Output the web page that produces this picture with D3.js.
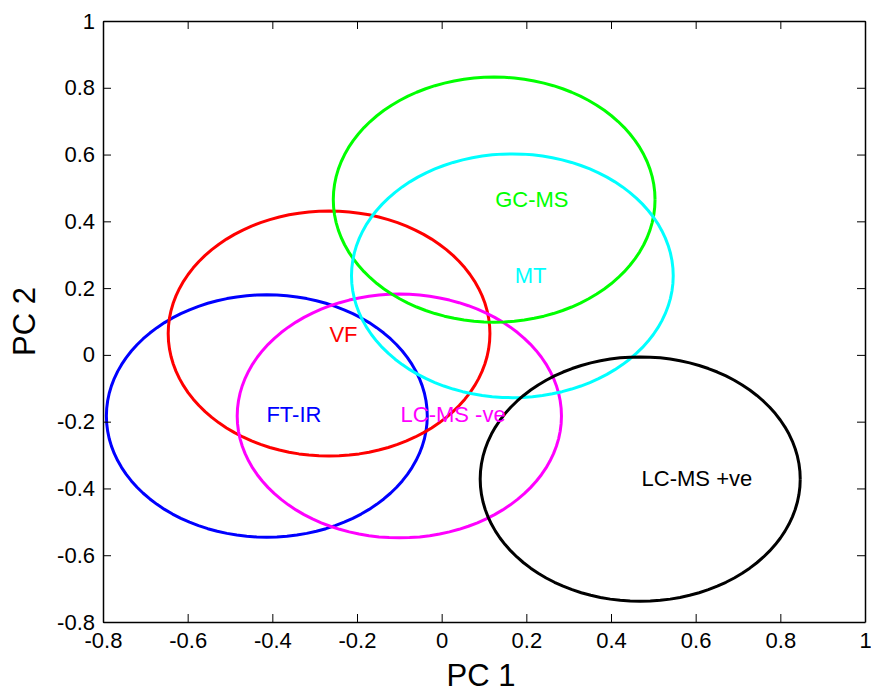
<!DOCTYPE html>
<html>
<head>
<meta charset="utf-8">
<script src="https://cdn.jsdelivr.net/npm/d3@7"></script>
<style>
  html, body { margin: 0; padding: 0; background: #fff; }
  svg { display: block; font-family: "Liberation Sans", Arial, sans-serif; }
</style>
</head>
<body>
<svg id="chart" width="871" height="692"></svg>
<script>
// ---- data ----
const groups  = ["FT-IR", "VF", "LC-MS -ve", "GC-MS", "MT", "LC-MS +ve"];
const centerX = [-0.413, -0.266, -0.100, 0.124, 0.167, 0.469];
const centerY = [-0.183,  0.064, -0.183, 0.465, 0.237, -0.372];
const radiusX = [0.379, 0.380, 0.383, 0.380, 0.380, 0.378];
const radiusY = [0.363, 0.367, 0.365, 0.367, 0.365, 0.366];
const labelX  = [-0.349, -0.232, 0.027, 0.213, 0.210, 0.603];
const labelY  = [-0.179,  0.063, -0.179, 0.467, 0.239, -0.370];
const colors  = ["#0000ff", "#ff0000", "#ff00ff", "#00ff00", "#00ffff", "#000000"];
const xTicks  = [-0.8, -0.6, -0.4, -0.2, 0, 0.2, 0.4, 0.6, 0.8, 1];
const yTicks  = [-0.8, -0.6, -0.4, -0.2, 0, 0.2, 0.4, 0.6, 0.8, 1];

// ---- layout ----
const L = 103, R = 865, T = 21, B = 622;
const svg = d3.select("#chart");
const x = d3.scaleLinear().domain([-0.8, 1]).range([L, R]);
const y = d3.scaleLinear().domain([-0.8, 1]).range([B, T]);
const fmt = d => (Math.round(d * 10) / 10).toString();

// ellipses
const line = d3.line().x(p => x(p[0])).y(p => y(p[1]));
const nPts = 100;
groups.forEach((g, i) => {
  const pts = d3.range(nPts + 1).map(k => {
    const a = 2 * Math.PI * k / nPts;
    return [centerX[i] + radiusX[i] * Math.cos(a), centerY[i] + radiusY[i] * Math.sin(a)];
  });
  svg.append("path")
    .attr("d", line(pts))
    .attr("fill", "none")
    .attr("stroke", colors[i])
    .attr("stroke-width", 3)
    .attr("stroke-linejoin", "round");
});

// labels
groups.forEach((g, i) => {
  svg.append("text")
    .attr("x", x(labelX[i]))
    .attr("y", y(labelY[i]))
    .attr("dy", "0.35em")
    .attr("text-anchor", "middle")
    .attr("font-size", 22)
    .attr("fill", colors[i])
    .text(g);
});

// axes (MATLAB style: inward ticks on all sides)
const tl = 8;
const axB = svg.append("g").attr("transform", `translate(0,${B})`)
  .call(d3.axisBottom(x).tickValues(xTicks).tickFormat(fmt).tickSizeInner(-tl).tickSizeOuter(0).tickPadding(10));
const axT = svg.append("g").attr("transform", `translate(0,${T})`)
  .call(d3.axisTop(x).tickValues(xTicks).tickFormat("").tickSizeInner(-tl).tickSizeOuter(0));
const axL = svg.append("g").attr("transform", `translate(${L},0)`)
  .call(d3.axisLeft(y).tickValues(yTicks).tickFormat(fmt).tickSizeInner(-tl).tickSizeOuter(0).tickPadding(8));
const axR = svg.append("g").attr("transform", `translate(${R},0)`)
  .call(d3.axisRight(y).tickValues(yTicks).tickFormat("").tickSizeInner(-tl).tickSizeOuter(0));

[axB, axT, axL, axR].forEach(a => {
  a.selectAll(".domain").attr("stroke", "#000").attr("stroke-width", 1.5);
  a.selectAll(".tick line").attr("stroke", "#000").attr("stroke-width", 1);
  a.selectAll("text").attr("font-size", 22).attr("fill", "#000")
    .attr("font-family", "'Liberation Sans', Arial, sans-serif");
});
axB.selectAll("text").attr("dy", "0.71em");

// axis titles
svg.append("text")
  .attr("x", (L + R) / 2 - 3).attr("y", 686)
  .attr("text-anchor", "middle").attr("font-size", 31)
  .text("PC 1");
svg.append("text")
  .attr("transform", `translate(35,${(T + B) / 2}) rotate(-90)`)
  .attr("text-anchor", "middle").attr("font-size", 31)
  .text("PC 2");
</script>
</body>
</html>
